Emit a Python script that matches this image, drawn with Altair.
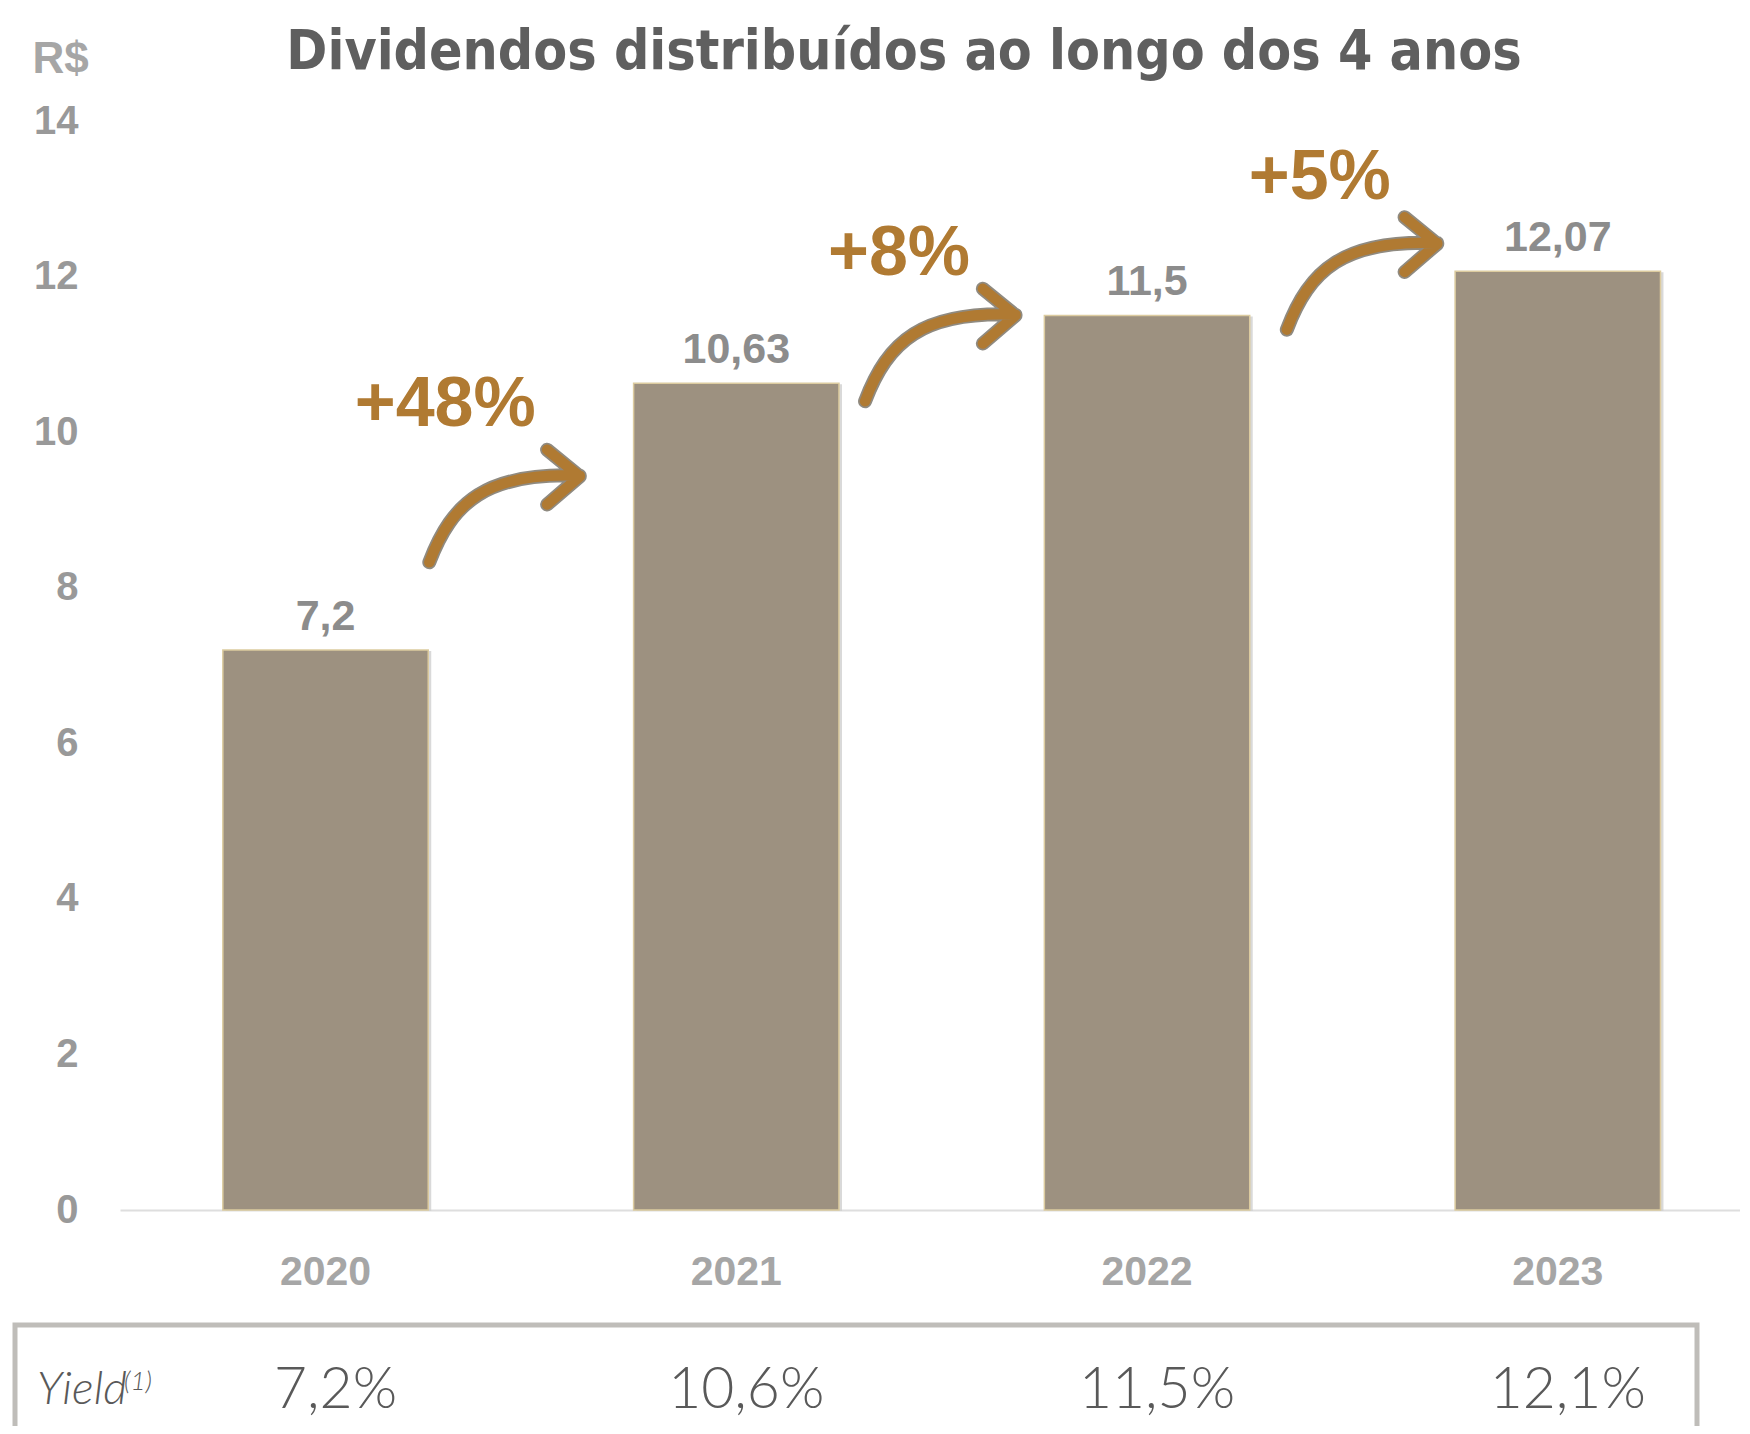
import altair as alt
import pandas as pd

# ---------------- data ----------------
years = ["2020", "2021", "2022", "2023"]
dividends = [7.2, 10.63, 11.5, 12.07]
dividend_labels = ["7,2", "10,63", "11,5", "12,07"]
yield_labels = ["7,2%", "10,6%", "11,5%", "12,1%"]
growth_labels = ["+48%", "+8%", "+5%"]
growth_targets = ["2021", "2022", "2023"]
y_ticks = [0, 2, 4, 6, 8, 10, 12, 14]
title_text = "Dividendos distribuídos ao longo dos 4 anos"

# ---------------- annotation placement ----------------
arrow_levels = [9.05, 11.12, 12.04]      # arrow centre, chart units
arrow_dx = [-231, -206, -195]            # px from target bar centre
label_levels = [10.08, 12.02, 13.0]      # growth label baseline, chart units
label_dx = [-291, -248, -238]
yield_level = -2.545
yield_name_level = -2.50
yield_sup_level = -2.31

ARROW = ("M -1 0.74 C -0.7 -0.05 -0.25 -0.45 0.98 -0.40 "
         "M 0.55 -0.74 L 0.98 -0.39 L 0.55 -0.02")

BOLD = "Liberation Sans, Arial, sans-serif"
NARROW = "Liberation Sans Narrow, DejaVu Sans Condensed, sans-serif"
LIGHT = "Lato, Open Sans, sans-serif"
BRONZE = "#b07a32"

df = pd.DataFrame({"year": years, "value": dividends,
                   "label": dividend_labels, "yield": yield_labels})

W, H = 1620, 1089

x_scale = alt.Scale(domain=years, paddingInner=0.5, paddingOuter=0.222, align=0.564)
y_scale = alt.Scale(domain=[0, 14], nice=False, zero=True)

x_enc = alt.X("year:N", scale=x_scale, sort=years,
              axis=alt.Axis(title=None, labelFont=BOLD, labelFontSize=41,
                            labelFontWeight="bold", labelColor="#a6a6a6",
                            labelAngle=0, labelPadding=74,
                            labelBaseline="alphabetic", ticks=False,
                            domainColor="#dedede", domainWidth=2))
y_enc = alt.Y("value:Q", scale=y_scale,
              axis=alt.Axis(values=y_ticks, format="d", grid=False, domain=False,
                            ticks=False,
                            labelFont=BOLD, labelFontSize=40, labelFontWeight="bold",
                            labelColor="#999999", labelPadding=42,
                            title="R$", titleAngle=0, titleX=-60, titleY=-49,
                            titleAlign="center", titleBaseline="alphabetic",
                            titleFont=BOLD, titleFontSize=44, titleFontWeight="bold",
                            titleColor="#a6a6a6"))

base = alt.Chart(df)

shadow = base.mark_bar(color="#cfcfcf", opacity=0.8, xOffset=3, yOffset=1).encode(
    x=x_enc, y=y_enc)

bars = base.mark_bar(color="#9d9180", stroke="#dccb9f", strokeWidth=1.5).encode(
    x=x_enc, y=y_enc)

values = base.mark_text(font=BOLD, fontSize=43, fontWeight="bold", color="#8c8c8c",
                        baseline="alphabetic", dy=-20).encode(
    x="year:N", y="value:Q", text="label:N")

yields = base.mark_text(font=LIGHT, fontSize=57, fontWeight=300, color="#595959",
                        baseline="alphabetic", dx=10).encode(
    x="year:N", y=alt.datum(yield_level), text="yield:N")

one = alt.Chart(pd.DataFrame({"year": ["2020"]}))

box = one.mark_rect(filled=False, fillOpacity=0, stroke="#bfbdb9", strokeWidth=5).encode(
    x=alt.value(-105), x2=alt.value(1577), y=alt.value(1204), y2=alt.value(1400))

yield_name = one.mark_text(font=LIGHT, fontSize=46, fontWeight=300, fontStyle="italic",
                           color="#595959", align="left", baseline="alphabetic").encode(
    x=alt.value(-83), y=alt.datum(yield_name_level), text=alt.value("Yield"))

yield_sup = one.mark_text(font=LIGHT, fontSize=26, fontWeight=300, fontStyle="italic",
                          color="#595959", align="left", baseline="alphabetic").encode(
    x=alt.value(4), y=alt.datum(yield_sup_level), text=alt.value("(1)"))

title = one.mark_text(font=NARROW, fontSize=55, fontWeight="bold", color="#5f5f5f",
                      align="center", baseline="alphabetic").encode(
    x=alt.value(784), y=alt.value(-52), text=alt.value(title_text))

layers = [shadow, bars, values, yields, box, yield_name, yield_sup, title]

for tgt, lab, alev, adx, llev, ldx in zip(growth_targets, growth_labels, arrow_levels,
                                          arrow_dx, label_levels, label_dx):
    g = alt.Chart(pd.DataFrame({"year": [tgt], "growth": [lab]}))
    outline = g.mark_point(shape=ARROW, size=23104, filled=False, opacity=1,
                           stroke="#8f8a80", strokeWidth=14, strokeCap="round",
                           strokeJoin="round", xOffset=adx).encode(
        x="year:N", y=alt.datum(alev))
    arrow = g.mark_point(shape=ARROW, size=23104, filled=False, opacity=1,
                         stroke=BRONZE, strokeWidth=10.5, strokeCap="round",
                         strokeJoin="round", xOffset=adx).encode(
        x="year:N", y=alt.datum(alev))
    text = g.mark_text(font=BOLD, fontSize=70, fontWeight="bold", color=BRONZE,
                       baseline="alphabetic", dx=ldx).encode(
        x="year:N", y=alt.datum(llev), text="growth:N")
    layers += [outline, arrow, text]

chart = alt.layer(*layers).properties(
    width=W, height=H,
    background="white",
    autosize=alt.AutoSizeParams(type="none"),
    padding={"left": 112, "top": 113, "right": 0, "bottom": 216},
).configure_view(stroke="transparent", strokeWidth=0)

chart.save("out.html", embed_options={"renderer": "svg", "actions": False})
